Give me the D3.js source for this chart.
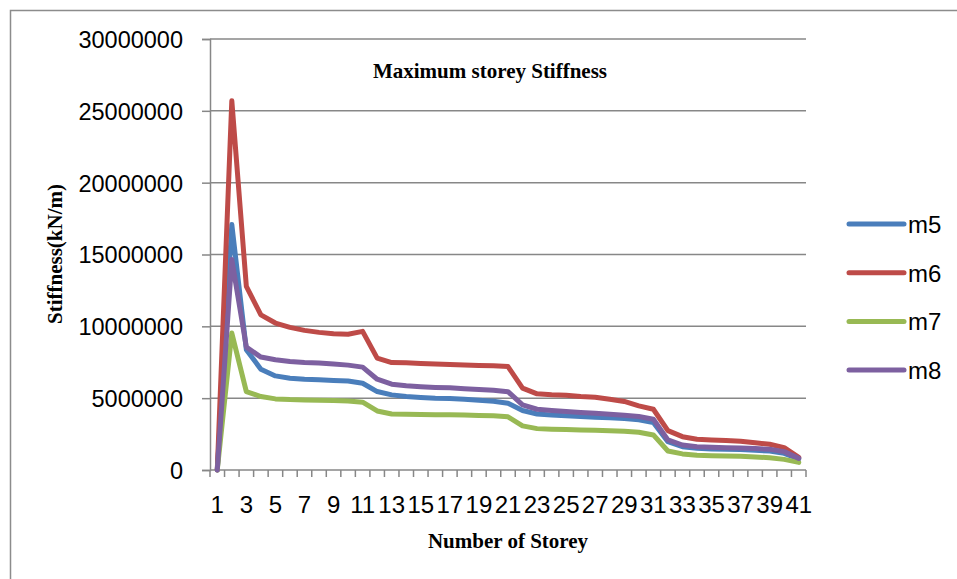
<!DOCTYPE html>
<html>
<head>
<meta charset="utf-8">
<script src="https://cdn.jsdelivr.net/npm/d3@7"></script>
<style>
  body { margin: 0; background: #fff; }
  svg { display: block; }
</style>
</head>
<body>
<svg id="chart"></svg>
<script>
// storey numbers 1..41
const storeys = d3.range(1, 42).map(String);

// stiffness values in millions of kN/m
const m5 = [0, 17.08, 8.37, 7.02, 6.55, 6.39, 6.32, 6.28, 6.23, 6.19, 6.04,
  5.46, 5.23, 5.11, 5.05, 5.0, 4.98, 4.93, 4.85, 4.78, 4.65,
  4.14, 3.9, 3.83, 3.77, 3.72, 3.67, 3.64, 3.58, 3.49, 3.3,
  1.97, 1.62, 1.51, 1.46, 1.44, 1.42, 1.37, 1.32, 1.16, 0.77];
const m6 = [0, 25.7, 12.78, 10.8, 10.23, 9.93, 9.72, 9.58, 9.48, 9.45, 9.65,
  7.79, 7.48, 7.46, 7.42, 7.38, 7.34, 7.3, 7.27, 7.25, 7.2,
  5.7, 5.3, 5.23, 5.2, 5.11, 5.07, 4.93, 4.77, 4.46, 4.23,
  2.74, 2.32, 2.14, 2.09, 2.05, 2.0, 1.9, 1.79, 1.56, 0.88];
const m7 = [0, 9.53, 5.46, 5.11, 4.95, 4.9, 4.88, 4.85, 4.83, 4.8, 4.72,
  4.11, 3.9, 3.88, 3.86, 3.85, 3.84, 3.82, 3.79, 3.77, 3.7,
  3.07, 2.88, 2.84, 2.82, 2.79, 2.76, 2.74, 2.7, 2.63, 2.44,
  1.32, 1.12, 1.02, 1.0, 0.98, 0.95, 0.9, 0.86, 0.74, 0.53];
const m8 = [0, 14.65, 8.55, 7.86, 7.67, 7.55, 7.48, 7.44, 7.37, 7.3, 7.16,
  6.32, 5.97, 5.86, 5.8, 5.75, 5.72, 5.65, 5.6, 5.55, 5.45,
  4.53, 4.23, 4.14, 4.07, 4.0, 3.95, 3.88, 3.81, 3.72, 3.53,
  2.09, 1.74, 1.62, 1.58, 1.55, 1.53, 1.49, 1.44, 1.28, 0.81];

const seriesNames = ["m5", "m6", "m7", "m8"];
const seriesColors = ["#4a7ebb", "#be4b48", "#98b954", "#7d60a0"];
const yTicks = [0, 5000000, 10000000, 15000000, 20000000, 25000000, 30000000];

const width = 957;
const height = 579;
const margin = { top: 39, right: 151, bottom: 109, left: 210 };
const sans = "'Liberation Sans', Arial, sans-serif";
const serif = "'Liberation Serif', 'Times New Roman', serif";
const grid = "#878787";

const svg = d3.select("#chart").attr("width", width).attr("height", height);

// outer chart frame (only top and left edges visible)
svg.append("path")
  .attr("d", `M10.5,${height} V10.5 H${width}`)
  .attr("fill", "none")
  .attr("stroke", "#8c8c8c")
  .attr("stroke-width", 1.5);

const x = d3.scaleBand()
  .domain(storeys)
  .range([margin.left, width - margin.right]);

const y = d3.scaleLinear()
  .domain([0, 30000000])
  .range([height - margin.bottom, margin.top]);

// horizontal gridlines + y axis
const yAxis = svg.append("g")
  .attr("transform", `translate(${margin.left},0)`)
  .call(d3.axisLeft(y).tickValues(yTicks).tickSize(8).tickFormat(d3.format("d")));
yAxis.select(".domain").attr("stroke", grid).attr("stroke-width", 1.5);
yAxis.selectAll(".tick line").attr("stroke", grid).attr("stroke-width", 1.5);
yAxis.selectAll(".tick text")
  .attr("x", -27)
  .attr("dy", "0.36em")
  .style("font-family", sans)
  .style("font-size", "23.5px")
  .attr("fill", "#000");

svg.append("g")
  .selectAll("line")
  .data(yTicks.filter((d) => d > 0))
  .join("line")
  .attr("x1", margin.left)
  .attr("x2", width - margin.right)
  .attr("y1", (d) => y(d))
  .attr("y2", (d) => y(d))
  .attr("stroke", grid)
  .attr("stroke-width", 1.5);

// x axis: ticks between categories, labels on every other storey
const xAxisY = y(0);
svg.append("line")
  .attr("x1", margin.left)
  .attr("x2", width - margin.right)
  .attr("y1", xAxisY)
  .attr("y2", xAxisY)
  .attr("stroke", grid)
  .attr("stroke-width", 1.5);

const edges = storeys.map((d) => x(d)).concat([x.range()[1]]);
svg.append("g")
  .selectAll("line")
  .data(edges)
  .join("line")
  .attr("x1", (d) => d)
  .attr("x2", (d) => d)
  .attr("y1", xAxisY)
  .attr("y2", xAxisY + 7)
  .attr("stroke", grid)
  .attr("stroke-width", 1.5);

svg.append("g")
  .selectAll("text")
  .data(storeys.filter((d, i) => i % 2 === 0))
  .join("text")
  .attr("x", (d) => x(d) + x.bandwidth() / 2)
  .attr("y", 513)
  .attr("text-anchor", "middle")
  .style("font-family", sans)
  .style("font-size", "24px")
  .text((d) => d);

// lines
const line = d3.line()
  .x((d, i) => x(storeys[i]) + x.bandwidth() / 2)
  .y((d) => y(d * 1e6))
  .curve(d3.curveLinear);

[m5, m6, m7, m8].forEach((values, k) => {
  svg.append("path")
    .datum(values)
    .attr("d", line)
    .attr("fill", "none")
    .attr("stroke", seriesColors[k])
    .attr("stroke-width", 5)
    .attr("stroke-linejoin", "round")
    .attr("stroke-linecap", "round");
});

// titles
svg.append("text")
  .attr("x", 490)
  .attr("y", 78)
  .attr("text-anchor", "middle")
  .style("font-family", serif)
  .style("font-weight", "bold")
  .style("font-size", "21px")
  .text("Maximum storey Stiffness");

svg.append("text")
  .attr("x", 508)
  .attr("y", 548)
  .attr("text-anchor", "middle")
  .style("font-family", serif)
  .style("font-weight", "bold")
  .style("font-size", "21px")
  .text("Number of Storey");

svg.append("text")
  .attr("transform", "translate(62,254) rotate(-90)")
  .attr("text-anchor", "middle")
  .style("font-family", serif)
  .style("font-weight", "bold")
  .style("font-size", "21px")
  .text("Stiffness(kN/m)");

// legend
const legend = svg.append("g")
  .selectAll("g")
  .data(seriesNames)
  .join("g")
  .attr("transform", (d, i) => `translate(849,${224 + i * 48.7})`);

legend.append("line")
  .attr("x1", 0)
  .attr("x2", 55)
  .attr("stroke", (d, i) => seriesColors[i])
  .attr("stroke-width", 5)
  .attr("stroke-linecap", "round");

legend.append("text")
  .attr("x", 59)
  .attr("y", 9)
  .style("font-family", sans)
  .style("font-size", "24px")
  .text((d) => d);
</script>
</body>
</html>
